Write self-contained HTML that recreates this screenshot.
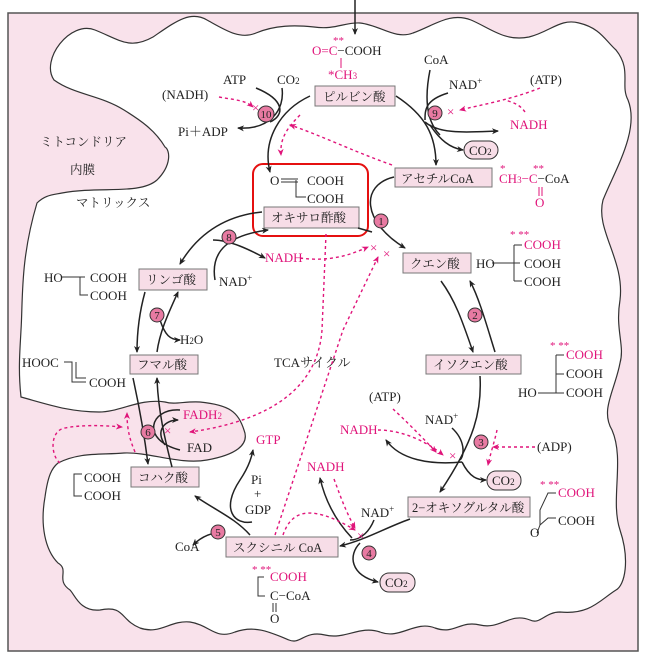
<!DOCTYPE html>
<html><head><meta charset="utf-8"><style>
body{margin:0;background:#fff}
svg{display:block}
text{font-family:"Liberation Serif","Noto Serif CJK SC","Noto Sans CJK JP",serif;font-size:13px;fill:#222}
.p{fill:#e0147a}
.j{font-size:12.5px}
.bx{fill:#f7dde7;stroke:#777;stroke-width:1}
.a{fill:none;stroke:#222;stroke-width:1.5;marker-end:url(#ah)}
.l{fill:none;stroke:#222;stroke-width:1.5}
.d{fill:none;stroke:#e0147a;stroke-width:1.4;stroke-dasharray:3,3}
.da{fill:none;stroke:#e0147a;stroke-width:1.4;stroke-dasharray:3,3;marker-end:url(#ph)}
.c{fill:#e87aa2;stroke:#333;stroke-width:1}
.n{font-size:11px;text-anchor:middle}
.th{fill:none;stroke:#333;stroke-width:1}
</style></head><body>
<svg width="645" height="661" viewBox="0 0 645 661" xmlns="http://www.w3.org/2000/svg">
<defs>
<marker id="ah" markerWidth="8" markerHeight="8" refX="6" refY="3" orient="auto" markerUnits="userSpaceOnUse"><path d="M0,0 L7,3 L0,6 L2,3z" fill="#222"/></marker>
<marker id="ph" markerWidth="8" markerHeight="8" refX="6" refY="3" orient="auto" markerUnits="userSpaceOnUse"><path d="M0,0 L7,3 L0,6 L2,3z" fill="#e0147a"/></marker>
</defs>
<rect x="8" y="13" width="630" height="638" fill="#f9e2eb" stroke="#555" stroke-width="1.5"/>
<path d="M54,80 C40,60 70,20 95,30 C120,40 130,50 153,37 C175,22 190,10 207,20 C225,30 240,40 256,33 C275,25 295,25 314,27 C335,30 345,22 360,23 C380,25 395,40 413,33 C435,25 450,12 471,20 C490,28 505,42 529,37 C550,32 560,18 579,23 C600,28 605,40 616,50 C632,70 620,85 628,100 C640,130 615,170 603,200 C595,230 625,260 620,300 C615,330 625,345 620,363 C615,390 600,410 612,430 C625,460 610,500 620,530 C630,560 625,585 616,590 C600,600 590,615 560,612 C545,612 540,625 530,620 C510,612 500,630 480,625 C460,620 455,635 435,628 C415,620 400,640 380,632 C360,625 345,640 325,635 C305,630 300,645 289,640 C270,632 255,625 235,632 C215,640 210,625 190,622 C170,620 160,635 140,628 C120,620 125,605 100,610 C80,612 75,595 70,590 C55,580 70,570 58,563 C45,550 40,525 45,497 C48,475 52,468 58,463 C80,452 100,455 124,453 C150,452 180,465 207,460 C235,455 250,445 244,430 C238,412 230,405 200,402 C185,401 175,405 165,402 C140,398 120,412 99,412 C70,412 50,405 21,397 C18,370 20,350 21,330 C23,300 20,260 37,203 C45,195 52,195 62,193 C100,186 140,195 157,180 C172,165 170,150 165,147 C155,130 140,120 124,110 C100,95 75,95 54,80Z" fill="#fff" stroke="#333" stroke-width="1.2"/>
<path class="a" d="M355,0 L355,34"/>
<text x="312" y="55"><tspan class="p">O=C</tspan>−COOH</text>
<text x="333" y="44" class="p" style="font-size:11px">**</text>
<path d="M341,58 L341,68" stroke="#e0147a" stroke-width="1"/>
<text x="328" y="79" class="p">*CH<tspan style="font-size:9px">3</tspan></text>
<rect class="bx" x="315" y="86" width="80" height="20"/><text x="323" y="101" class="j">ピルビン酸</text>
<rect class="bx" x="395" y="168" width="97" height="19"/><text x="401" y="183" class="j">アセチルCoA</text>
<rect class="bx" x="264" y="207" width="95" height="21"/><text x="271" y="222" class="j">オキサロ酢酸</text>
<rect class="bx" x="403" y="253" width="68" height="20"/><text x="410" y="268" class="j">クエン酸</text>
<rect class="bx" x="139" y="269" width="68" height="21"/><text x="146" y="284" class="j">リンゴ酸</text>
<rect class="bx" x="130" y="355" width="68" height="19"/><text x="137" y="369" class="j">フマル酸</text>
<rect class="bx" x="426" y="355" width="95" height="19"/><text x="433" y="369" class="j">イソクエン酸</text>
<rect class="bx" x="131" y="467" width="68" height="20"/><text x="138" y="482" class="j">コハク酸</text>
<rect class="bx" x="408" y="497" width="122" height="20"/><text x="412" y="512" class="j">2−オキソグルタル酸</text>
<rect class="bx" x="226" y="537" width="112" height="20"/><text x="233" y="552" class="j">スクシニル CoA</text>
<rect x="253" y="164" width="115" height="72" rx="10" fill="none" stroke="#e51010" stroke-width="2"/>
<text x="270" y="185">O</text>
<path class="th" d="M281,179 L298,179 M281,182 L298,182 M296,180 L296,197 L306,197"/>
<text x="307" y="185">COOH</text><text x="307" y="203">COOH</text>
<text x="223" y="84">ATP</text><text x="277" y="84">CO<tspan style="font-size:9px">2</tspan></text>
<text x="162" y="99">(NADH)</text>
<text x="178" y="136">Pi＋ADP</text>
<text x="40" y="146" class="j">ミトコンドリア</text>
<text x="70" y="174" class="j">内膜</text>
<text x="76" y="207" class="j">マトリックス</text>
<text x="424" y="64">CoA</text>
<text x="449" y="89">NAD<tspan style="font-size:9px" dy="-5">+</tspan></text>
<text x="530" y="84">(ATP)</text>
<text x="510" y="129" class="p">NADH</text>
<rect x="464" y="141" width="34" height="18" rx="9" fill="#f7dde7" stroke="#333"/><text x="469" y="155">CO<tspan style="font-size:9px">2</tspan></text>
<text x="499" y="183"><tspan class="p">CH</tspan><tspan class="p" style="font-size:9px">3</tspan><tspan class="p">−C</tspan>−CoA</text>
<text x="500" y="172" class="p" style="font-size:11px">*</text><text x="533" y="172" class="p" style="font-size:11px">**</text>
<path d="M539,187 L539,196 M542,187 L542,196" stroke="#e0147a" stroke-width="1"/>
<text x="535" y="207" class="p">O</text>
<text x="476" y="268">HO</text>
<path class="th" d="M492,263 L520,263 M514,245 L514,281 M514,245 L522,245 M514,281 L522,281"/>
<text x="524" y="249" class="p">COOH</text><text x="510" y="238" class="p" style="font-size:11px">*  **</text>
<text x="524" y="268">COOH</text><text x="524" y="286">COOH</text>
<text x="44" y="282">HO</text>
<path class="th" d="M61,277 L85,277 M80,277 L80,295 L88,295"/>
<text x="90" y="282">COOH</text><text x="90" y="300">COOH</text>
<text x="219" y="286">NAD<tspan style="font-size:9px" dy="-5">+</tspan></text>
<text x="265" y="262" class="p">NADH</text>
<text x="180" y="344">H<tspan style="font-size:9px">2</tspan>O</text>
<text x="22" y="367">HOOC</text>
<path class="th" d="M64,362 L72,362 L72,382 L86,382 M76,362 L76,378 L86,378"/>
<text x="89" y="387">COOH</text>
<text x="274" y="367">TCAサイクル</text>
<text x="550" y="349" class="p" style="font-size:11px">*  **</text>
<path class="th" d="M556,355 L564,355 M556,355 L556,393 M556,374 L564,374 M538,393 L564,393"/>
<text x="566" y="359" class="p">COOH</text><text x="566" y="378">COOH</text>
<text x="518" y="397">HO</text><text x="566" y="397">COOH</text>
<text x="369" y="401">(ATP)</text>
<text x="425" y="424">NAD<tspan style="font-size:9px" dy="-5">+</tspan></text>
<text x="340" y="434" class="p">NADH</text>
<text x="537" y="451">(ADP)</text>
<rect x="487" y="471" width="34" height="19" rx="9" fill="#f7dde7" stroke="#333"/><text x="492" y="485">CO<tspan style="font-size:9px">2</tspan></text>
<text x="183" y="419" class="p">FADH<tspan style="font-size:9px">2</tspan></text>
<text x="187" y="452">FAD</text>
<text x="256" y="444" class="p">GTP</text>
<path class="th" d="M82,474 L74,474 L74,496 L82,496"/>
<text x="84" y="482">COOH</text><text x="84" y="500">COOH</text>
<text x="251" y="484">Pi</text><text x="254" y="498">+</text><text x="245" y="514">GDP</text>
<text x="307" y="471" class="p">NADH</text>
<text x="361" y="517">NAD<tspan style="font-size:9px" dy="-5">+</tspan></text>
<text x="540" y="488" class="p" style="font-size:11px">*  **</text>
<path class="th" d="M556,493 L548,493 L540,510 L540,525 L548,518 L556,518 M540,525 L537,533"/>
<text x="558" y="497" class="p">COOH</text><text x="558" y="525">COOH</text><text x="530" y="537">O</text>
<text x="175" y="551">CoA</text>
<rect x="380" y="573" width="35" height="19" rx="9" fill="#f7dde7" stroke="#333"/><text x="385" y="587">CO<tspan style="font-size:9px">2</tspan></text>
<text x="252" y="573" class="p" style="font-size:11px">*  **</text>
<path class="th" d="M264,577 L258,577 L258,596 L265,596"/>
<text x="270" y="581" class="p">COOH</text><text x="270" y="600">C−CoA</text>
<path d="M273,603 L273,612 M276,603 L276,612" stroke="#333" stroke-width="1"/>
<text x="270" y="623">O</text>
<path class="a" d="M310,96 C280,110 262,140 270,172"/>
<path class="l" d="M256,88 C285,100 285,115 270,122"/>
<path class="a" d="M282,88 C285,110 270,130 238,128"/>
<path class="a" d="M396,96 C425,115 436,135 436,165"/>
<path class="l" d="M430,70 C425,95 425,120 440,135"/>
<path class="l" d="M448,93 C425,100 425,110 425,120"/>
<path class="a" d="M425,122 C440,135 470,132 498,131"/>
<path class="a" d="M430,125 C440,140 450,148 463,150"/>
<path class="a" d="M394,177 C360,185 362,222 405,248"/>
<path class="l" d="M358,228 L372,232"/>
<path class="a" d="M441,281 C455,300 462,320 473,352"/>
<path class="a" d="M495,352 C488,330 480,300 470,281"/>
<path class="a" d="M480,376 C482,410 475,440 440,492"/>
<path class="l" d="M452,428 C465,440 465,455 460,460"/>
<path class="a" d="M462,462 C430,465 400,460 386,440"/>
<path class="a" d="M462,462 C470,478 478,480 486,480"/>
<path class="a" d="M410,519 C385,528 365,540 340,546"/>
<path class="l" d="M374,520 C370,530 362,540 350,540"/>
<path class="a" d="M352,538 C335,520 325,500 320,478"/>
<path class="a" d="M360,543 C348,555 350,575 378,582"/>
<path class="a" d="M250,535 C235,518 215,510 195,496"/>
<path class="a" d="M225,532 C210,532 200,538 193,545"/>
<path class="a" d="M252,522 C235,525 220,510 240,480 C250,465 252,455 253,450"/>
<path class="a" d="M133,378 C140,410 145,440 148,464"/>
<path class="a" d="M172,467 C165,440 158,410 157,378"/>
<path class="l" d="M180,410 C150,408 140,440 180,450"/>
<path class="a" d="M165,445 C155,430 165,420 178,420"/>
<path class="a" d="M145,292 C140,310 137,330 137,352"/>
<path class="a" d="M157,352 C160,330 170,310 178,292"/>
<path class="a" d="M160,320 C165,335 170,340 180,340"/>
<path class="a" d="M262,212 C230,215 200,230 180,264"/>
<path class="a" d="M215,280 C210,250 230,235 268,230"/>
<path class="a" d="M213,240 C230,240 250,250 265,258"/>
<path class="da" d="M219,97 C235,100 245,100 253,107"/>
<path class="da" d="M300,115 C285,130 280,140 281,155"/>
<path class="da" d="M392,165 C350,150 320,135 290,125"/>
<path class="da" d="M540,88 C510,100 480,105 460,110"/>
<path class="d" d="M525,112 C520,105 515,103 505,100"/>
<path class="da" d="M300,258 C330,262 350,255 368,247"/>
<path class="da" d="M326,234 L322,330 C318,385 275,420 190,432"/>
<path class="da" d="M275,535 L343,330 L378,257"/>
<path class="da" d="M283,535 C290,515 305,500 355,530"/>
<path class="da" d="M60,463 C50,455 50,430 65,428 C80,425 100,425 122,427"/>
<path class="da" d="M135,452 C130,440 127,430 127,413"/>
<path class="da" d="M393,409 C405,420 420,435 436,452"/>
<path class="da" d="M378,430 C400,430 425,440 443,455"/>
<path class="da" d="M535,447 L493,447"/>
<path class="da" d="M497,430 C495,440 490,455 488,465"/>
<path class="da" d="M334,479 C340,495 345,510 355,528"/>
<g style="font-size:10px;font-family:'Liberation Sans',sans-serif"><text x="252" y="112" class="p">×</text><text x="447" y="116" class="p">×</text><text x="370" y="252" class="p">×</text><text x="383" y="258" class="p">×</text><text x="164" y="435" class="p">×</text><text x="449" y="460" class="p">×</text><text x="357" y="540" class="p">×</text></g>
<g><circle class="c" cx="266" cy="114" r="8"/><text x="266" y="118" class="n">10</text>
<circle class="c" cx="435" cy="113" r="7"/><text x="435" y="117" class="n">9</text>
<circle class="c" cx="381" cy="221" r="7"/><text x="381" y="225" class="n">1</text>
<circle class="c" cx="229" cy="237" r="7"/><text x="229" y="241" class="n">8</text>
<circle class="c" cx="157" cy="315" r="7"/><text x="157" y="319" class="n">7</text>
<circle class="c" cx="475" cy="315" r="7"/><text x="475" y="319" class="n">2</text>
<circle class="c" cx="481" cy="442" r="7"/><text x="481" y="446" class="n">3</text>
<circle class="c" cx="148" cy="432" r="7"/><text x="148" y="436" class="n">6</text>
<circle class="c" cx="218" cy="532" r="7"/><text x="218" y="536" class="n">5</text>
<circle class="c" cx="369" cy="553" r="7"/><text x="369" y="557" class="n">4</text></g>
</svg>
</body></html>
